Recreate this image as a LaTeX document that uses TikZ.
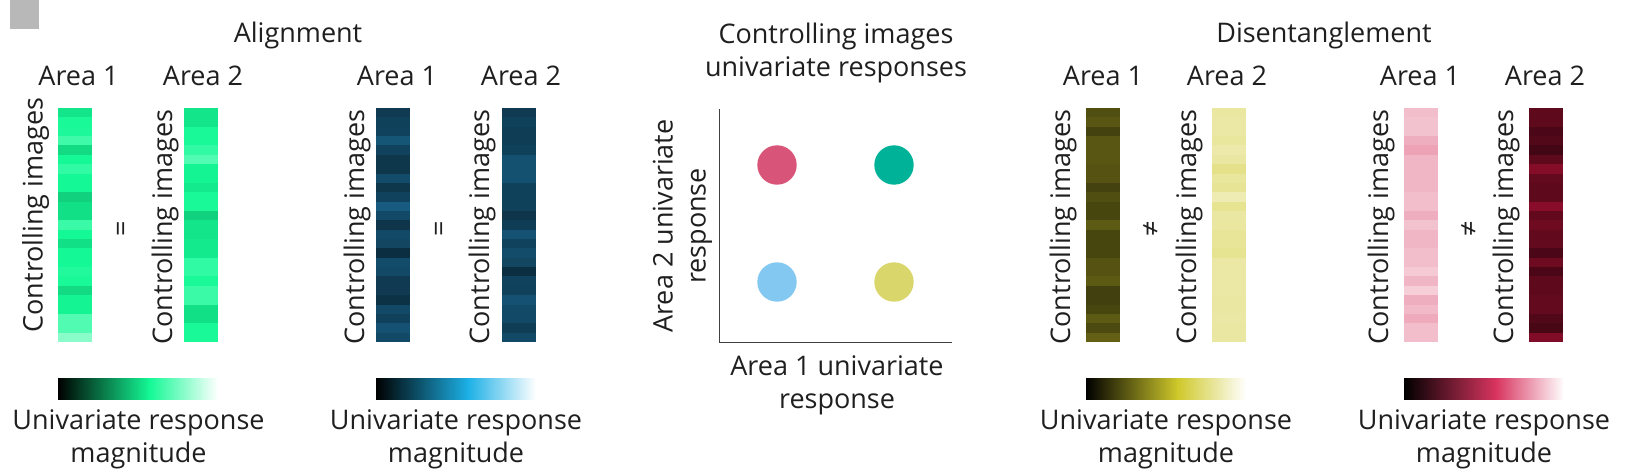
\documentclass[tikz,border=0pt]{standalone}
\usepackage{fontspec}
\setmainfont{Open Sans}
\definecolor{mapgreen}{HTML}{14F996}
\definecolor{mapblue}{HTML}{1CB0E6}
\definecolor{mapyellow}{HTML}{CFC92B}
\definecolor{mappink}{HTML}{D8345F}
\definecolor{stripblue}{HTML}{2AA6E8}
\definecolor{stripcrimson}{HTML}{D0143F}
% values run from 0 (black) over 100 (full colour) to 200 (white)
\newcommand{\bandstrip}[3]{
  \foreach \v [count=\i from 0] in {#3} {
    \ifnum\v<101 \edef\bandcol{#2!\v!black}\else
      \pgfmathtruncatemacro{\w}{200-\v}\edef\bandcol{#2!\w!white}\fi
    \pgfmathsetmacro{\bandh}{\i<24 ? 9.7 : 9.36}
    \fill[\bandcol] (#1,108+\i*9.36) rectangle ++(34,\bandh);
  }
}
\begin{document}
\begin{tikzpicture}[
  x=1pt, y=-1pt,
  every node/.style={inner sep=0pt, text=black!88},
  lab/.style={font=\fontsize{27}{33}\selectfont, align=center},
  base lab/.style={lab, anchor=base},
  side lab/.style={lab, anchor=base, rotate=90},
  dot/.style={circle, minimum size=39.4pt}
]
\useasboundingbox (0,0) rectangle (1643,473);
\fill[black!28] (10,0) rectangle (39,29);

% Titles
\node[base lab] (align) at (298,43) {Alignment};
\node[base lab] (disent) at (1324,43) {Disentanglement};
\node[lab] (centre) at (836,53) {Controlling images\\univariate responses};

% Labels of the four panels
\foreach \p/\xa/\xb/\sa/\sb/\ya/\sgn/\xsgn/\xbar in {
  1/78.5/203/42.7/172/215/=/123.5/138.5,
  2/397/521/364/489/227/=/441.5/456,
  3/1103/1227/1070/1196/227/≠/1151.5/1166,
  4/1420/1545/1388/1513/227/≠/1469.5/1484} {
  \node[base lab] (areaA\p) at (\xa,85.5) {Area 1};
  \node[base lab] (areaB\p) at (\xb,85.5) {Area 2};
  \node[side lab] (imgA\p) at (\sa,\ya) {Controlling images};
  \node[side lab] (imgB\p) at (\sb,227) {Controlling images};
  \node[lab, rotate=90] (sign\p) at (\xsgn,229) {\sgn};
  \node[lab] (bar\p) at (\xbar,439) {Univariate response\\magnitude};
}

% Strips
\bandstrip{58}{mapgreen}{92,102,104,118,88,100,112,100,100,84,90,90,116,100,90,100,100,106,102,88,98,98,126,126,150}
\bandstrip{184}{mapgreen}{92,92,102,102,112,126,98,98,94,102,102,84,92,92,94,94,112,112,102,116,116,90,90,102,102}
\bandstrip{376}{stripblue}{35,39,40,51,40,33,33,46,33,40,55,44,32,44,42,28,46,44,35,35,30,44,39,49,44}
\bandstrip{502}{stripblue}{35,39,37,37,39,48,48,48,39,39,39,32,37,49,40,46,42,28,40,39,49,44,44,37,44}
\bandstrip{1086}{mapyellow}{39,43,33,43,43,43,41,41,33,39,35,35,45,35,35,35,41,41,45,32,32,35,45,37,48}
\bandstrip{1212}{mapyellow}{155,158,158,154,160,156,145,154,150,164,148,156,155,152,152,148,158,158,158,158,156,156,158,156,156}
\bandstrip{1404}{mappink}{168,170,170,160,154,164,164,164,164,168,168,160,170,164,164,168,168,174,164,176,160,166,158,168,168}
\bandstrip{1529}{stripcrimson}{45,45,36,40,32,45,64,48,45,45,66,47,53,47,48,36,53,36,45,45,48,48,39,34,62}

% Colour bars
\foreach \x/\c in {58/mapgreen, 376/mapblue, 1086/mapyellow, 1404/mappink} {
  \shade[left color=black, right color=\c] (\x,378) rectangle ++(92,21);
  \shade[left color=\c, right color=white] (\x+91.5,378) rectangle ++(68.5,21);
}

% Middle plot
\coordinate (top) at (719,109);
\coordinate (origin) at (719,342);
\coordinate (right) at (952,342);
\draw[black!75, line width=1pt] (top) -- (origin) -- (right);
\node[dot, fill={rgb,255:red,216;green,84;blue,120}] (pink) at (777,165) {};
\node[dot, fill={rgb,255:red,0;green,179;blue,152}] (teal) at (894,165) {};
\node[dot, fill={rgb,255:red,130;green,200;blue,240}] (blue) at (777,282) {};
\node[dot, fill={rgb,255:red,217;green,214;blue,108}] (yellow) at (894,282) {};
\node[lab, rotate=90] (ylab) at (682.5,226) {Area 2 univariate\\response};
\node[lab] (xlab) at (837,385) {Area 1 univariate\\response};
\end{tikzpicture}
\end{document}
